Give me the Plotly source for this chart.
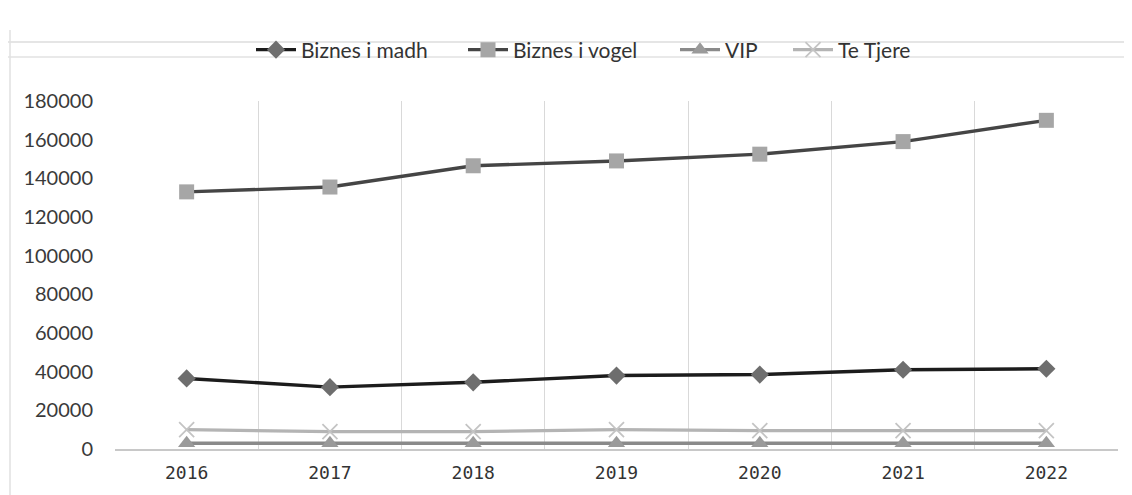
import plotly.graph_objects as go

years = ["2016", "2017", "2018", "2019", "2020", "2021", "2022"]
biznes_madh = [36500, 32000, 34500, 38000, 38500, 41000, 41500]
biznes_vogel = [133000, 135500, 146500, 149000, 152500, 159000, 170000]
vip = [3000, 3000, 3000, 3000, 3000, 3000, 3000]
te_tjere = [10000, 9000, 9000, 10000, 9500, 9500, 9500]
y_ticks = [0, 20000, 40000, 60000, 80000, 100000, 120000, 140000, 160000, 180000]

FONT = "Lato"
xi = list(range(len(years)))

# page body has an 8px margin; work in screen pixels
OFF = 8
W, H = 1132 - OFF, 495 - OFF
SL, SR, ST, SB = 115, 1118, 101, 449  # plot area in screen px
L, T = SL - OFF, ST - OFF
R = W - (SR - OFF)
B = H - (SB - OFF)
PW = SR - SL
PH = SB - ST


def px_x(p):
    return (p - SL) / PW


def px_y(p):
    return (SB - p) / PH


fig = go.Figure()
fig.add_trace(go.Scatter(
    x=xi, y=biznes_madh, name="Biznes i madh", mode="lines+markers", legend="legend",
    line=dict(color="#1c1c1c", width=3.4),
    marker=dict(symbol="diamond", size=14, color="#6e6e6e", line=dict(width=0))))
fig.add_trace(go.Scatter(
    x=xi, y=biznes_vogel, name="Biznes i vogel", mode="lines+markers", legend="legend2",
    line=dict(color="#454545", width=3.4),
    marker=dict(symbol="square", size=15, color="#a6a6a6", line=dict(width=0))))
fig.add_trace(go.Scatter(
    x=xi, y=vip, name="VIP", mode="lines+markers", legend="legend3",
    line=dict(color="#8a8a8a", width=3.4),
    marker=dict(symbol="triangle-up", size=15, color="#9a9a9a", line=dict(width=0))))
fig.add_trace(go.Scatter(
    x=xi, y=te_tjere, name="Te Tjere", mode="lines+markers", legend="legend4",
    line=dict(color="#b4b4b4", width=3.4),
    marker=dict(symbol="x-thin", size=15, color="#c4c4c4", line=dict(width=1.8, color="#c4c4c4"))))

leg_font = dict(family=FONT, size=21, color="#333333")


def leg(px_left):
    return dict(orientation="h", x=px_x(px_left), xanchor="left", y=px_y(50), yanchor="middle",
                font=leg_font, bgcolor="rgba(0,0,0,0)", itemwidth=40)


fig.update_layout(
    width=W, height=H,
    margin=dict(l=L, r=R, t=T, b=B, autoexpand=False),
    paper_bgcolor="white", plot_bgcolor="white",
    font=dict(family=FONT, size=19, color="#3a3a3a"),
    showlegend=True,
    legend=leg(251),
    legend2=leg(463),
    legend3=leg(675),
    legend4=leg(788),
    xaxis=dict(
        range=[-0.5, 6.5], tickmode="array", tickvals=xi, ticktext=years,
        showgrid=False, zeroline=False,
        showline=True, linecolor="#c8c8c8", linewidth=1.5,
        ticks="", tickfont=dict(family="DejaVu Sans Mono", size=18, color="#333333"),
        ticklabelstandoff=7,
        minor=dict(tickmode="array", tickvals=[i - 0.5 for i in range(len(years) + 1)],
                   showgrid=True, gridcolor="#d9d9d9", gridwidth=1, ticks=""),
    ),
    yaxis=dict(
        range=[0, 180000], tickmode="array", tickvals=y_ticks,
        ticktext=[str(v) for v in y_ticks],
        showgrid=False, zeroline=False, showline=False, ticks="",
        tickfont=dict(family=FONT, size=20, color="#3a3a3a"),
        ticklabelstandoff=21,
    ),
    shapes=[
        dict(type="line", xref="paper", yref="paper", x0=px_x(OFF), x1=px_x(1132), y0=px_y(42), y1=px_y(42),
             line=dict(color="#dcdcdc", width=1.5)),
        dict(type="line", xref="paper", yref="paper", x0=px_x(OFF), x1=px_x(1132), y0=px_y(57), y1=px_y(57),
             line=dict(color="#e2e2e2", width=1.5)),
        dict(type="line", xref="paper", yref="paper", x0=px_x(10), x1=px_x(10), y0=px_y(495), y1=px_y(30),
             line=dict(color="#e0e0e0", width=1.5)),
    ],
)

fig.write_html("out.html")
